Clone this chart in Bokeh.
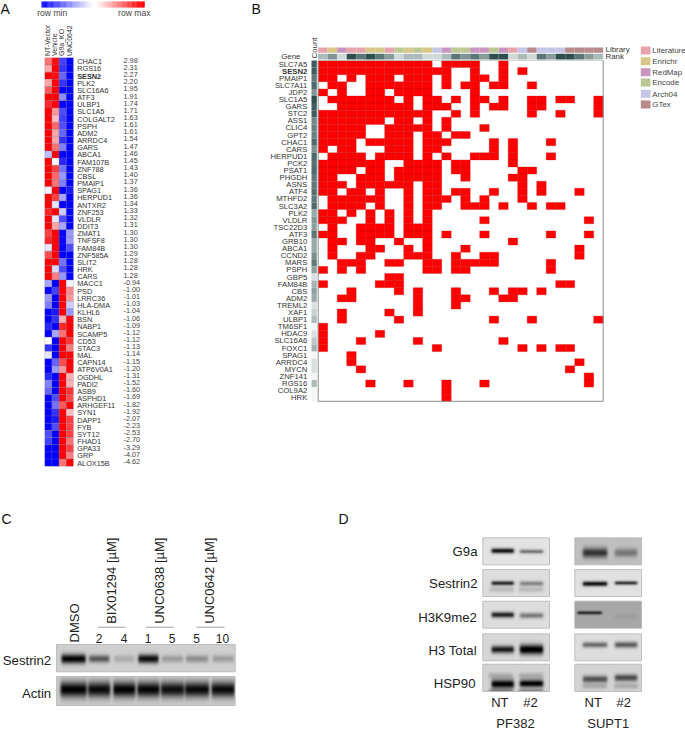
import numpy as np
from bokeh.plotting import figure
from bokeh.models import Range1d
from bokeh.core.properties import value
from bokeh.embed import file_html
from bokeh.resources import INLINE

# ---------- Panel A data ----------
a_headers = ["NT-Vector", "Vehicle", "G9a_KO", "UNC0642"]
a_genes = ["CHAC1","RGS16","SESN2","PLK2","SLC16A6","ATF3","ULBP1","SLC1A5","COLGALT2","PSPH","ADM2","ARRDC4","GARS","ABCA1",
           "FAM107B","ZNF788","CBSL","PMAIP1","SPAG1","HERPUD1","ANTXR2","ZNF253","VLDLR","DDIT3","ZMAT1","TNFSF8","FAM84B",
           "ZNF585A","SLIT2","HRK","CARS","MACC1","PSD","LRRC36","HLA-DMA","KLHL6","BSN","NABP1","SCAMP5","CD53","STAC3","MAL",
           "CAPN14","ATP6V0A1","OGDHL","PADI2","ASB9","ASPHD1","ARHGEF11","SYN1","DAPP1","FYB","SYT12","FHAD1","GPA33","GRP","ALOX15B"]
a_fc = ["2.98","2.31","2.27","2.20","1.95","1.91","1.74","1.71","1.63","1.61","1.61","1.54","1.47","1.46","1.45","1.43","1.40",
        "1.37","1.36","1.36","1.34","1.33","1.32","1.31","1.30","1.30","1.30","1.29","1.28","1.28","1.28","-0.94","-1.00","-1.01",
        "-1.03","-1.04","-1.06","-1.09","-1.12","-1.12","-1.13","-1.14","-1.15","-1.20","-1.31","-1.52","-1.60","-1.69","-1.82",
        "-1.92","-2.07","-2.23","-2.53","-2.70","-3.29","-4.07","-4.62"]
a_nt = [.55,.35,1,.35,.65,1,.85,1,1,1,1,1,1,-.25,1,1,1,1,-.05,1,1,.85,1,1,.75,.85,-.1,.7,1,1,1,
        -.35,-1,-.4,-.5,-1,-1,-.85,-1,0,-.8,-.1,-1,-1,-.85,-.5,-.6,-1,-1,-1,-1,-1,-.7,-.75,-1,-1,-1]
a_veh = [.95,1,.95,1,1,1,1,.4,.25,.6,.35,.35,.55,1,0,.75,.6,.55,1,.75,-.1,1,-.1,.35,1,1,1,1,1,-.15,.5,
         -1,-.75,-1,-1,-.9,-.8,-1,-.35,-1,-1,-1,-.6,-.4,-1,-1,-1,-.7,-.55,-.8,-.9,-.7,-1,-1,-1,-1,-1]
a_ko = [-.75,-.8,-.6,-.8,-1,-.45,-1,-.7,-.75,-.7,-.6,-.8,-.5,-1,-.85,-.55,-.4,-.5,-1,-.35,-1,-.2,-.7,-.35,-1,-1,-1,-1,-.55,-.7,-.4,
        1,1,1,1,1,.3,.85,.55,1,1,1,.7,.4,1,1,1,1,.65,1,1,1,1,1,1,1,.55]
a_unc = [-1,-1,-1,-1,-1,-1,-1,-1,-1,-1,-1,-1,-1,-1,-1,-1,-1,-1,-.9,-1,-1,-1,-1,-1,-.4,-.4,-.7,-1,-1,-1,-1,
         -.05,.45,.4,-.2,-.4,1,1,1,.8,.5,1,1,1,.3,.3,.8,.7,1,.25,.75,.75,.75,.55,.75,.5,1]

# ---------- Panel B data ----------
b_genes = ["SLC7A5","SESN2","PMAIP1","SLC7A11","JDP2","SLC1A5","GARS","STC2","ASS1","CLIC4","GPT2","CHAC1","CARS","HERPUD1",
           "PCK2","PSAT1","PHGDH","ASNS","ATF4","MTHFD2","SLC3A2","PLK2","VLDLR","TSC22D3","ATF3","GRB10","ABCA1","CCND2","MARS",
           "PSPH","GBP5","FAM84B","CBS","ADM2","TREML2","XAF1","ULBP1","TM6SF1","HDAC9","SLC16A6","FOXC1","SPAG1","ARRDC4","MYCN",
           "ZNF141","RGS16","COL9A2","HRK"]
b_hits = [
 [0,1,2,3,4,5,6,7,8,9,10,11,13,14,15,16,19],
 [0,1,2,3,4,5,6,7,8,9,10,11,12,13,16,19,21],
 [0,1,3,5,6,7,9,10,11,13,16,17,19],
 [1,2,5,6,7,8,9,10,11,13,15,16,18,19,22],
 [0,2,5,6,8,9,10,11,16],
 [1,2,3,4,5,6,7,9,11,12,14,16,17,19,22,23,25,26,29],
 [2,3,4,5,6,7,8,9,11,12,13,16,18,19,22,23,29],
 [0,1,2,3,4,5,6,7,8,9,10,11,14,16,22,25,29],
 [0,1,2,3,4,5,6,8,9,11,13],
 [0,1,2,3,4,7,8,9,10,11,13,17],
 [0,1,2,3,4,7,8,9,11,12,14,15],
 [0,1,2,3,5,6,7,8,9,11,12,13,18,20,24],
 [0,2,3,7,8,9,11,12,18,20],
 [1,2,3,4,6,7,8,9,11,13,16,17,18,20,24],
 [0,1,2,3,4,5,6,9,10,11,12,14,15,20],
 [0,1,2,3,5,6,8,9,10,11,12,14,15,21,22],
 [0,1,4,5,6,8,9,10,11,12,15,20,21],
 [0,1,2,4,5,6,7,8,9,11,12,21,23],
 [0,1,3,4,6,9,11,12,14,15,18,21,23,27],
 [1,2,3,4,5,6,9,11,12,13,15,17,21],
 [1,2,3,4,6,9,11,12,15,16,17,19,22,24,25],
 [0,1,3,5,7,9,11],
 [0,1,2,5,7,9,11,17,28],
 [1,4,5,6,7,9,10,11],
 [0,1,4,5,6,7,9,10,11,13,17,24,28],
 [1,2,4,5,8,11,20],
 [1,5,6,9,11,15,27],
 [1,4,5,9,10,11,14,17,18,27],
 [2,3,4,7,8,11,12,14,15,16,17,18,24],
 [0,2,4,11,12,14,15,24],
 [7,8],
 [0,6,7,8,25,26],
 [3,8,10,14,18,20,21,23],
 [2,3,10,14,15,19,20],
 [10,14],
 [2,7,10],
 [2,8,18,22,29],
 [0],
 [0,6],
 [0,4,10,19],
 [0,12,21,23,25,26],
 [3],
 [3,27],
 [4,26],
 [28],
 [5,9,13,17,28],
 [13],
 [13],
]
b_library = ["Literature","Enrichr","RedMap","Literature","Literature","Enrichr","Enrichr","Literature","Encode","Enrichr",
             "Encode","Enrichr","Arch04","RedMap","Encode","Encode","RedMap","RedMap","Encode","RedMap","Literature","Arch04",
             "GTex","Arch04","Arch04","Arch04","GTex","GTex","GTex","GTex"]
b_rank = [.3,.55,.1,1,.75,1,.75,.5,.1,.3,.3,.1,.1,.3,.75,.55,.75,.5,1,1,.1,.3,.1,.75,.5,1,1,.75,.5,.3]
lib_names = ["Literature","Enrichr","RedMap","Encode","Arch04","GTex"]
lib_colors = ["#e8a4ac","#d9c787","#c994c0","#bcc894","#c5c5e8","#b88a8a"]

# ---------- Blot band strengths (0-255 darkness) ----------
c_labels = ["2","4","1","5","5","10"]
c_sestrin2 = [205,120,35,195,50,65,50]
c_actin = [205,195,205,200,190,195,195]
d_rows = ["G9a","Sestrin2","H3K9me2","H3 Total","HSP90"]
d_pf382_nt = [210,185,190,190,215]
d_pf382_k2 = [110,90,100,225,215]
d_supt1_nt = [140,215,130,115,130]
d_supt1_k2 = [75,180,10,130,140]
d_pf382_bg = [228,222,222,216,212]
d_supt1_bg = [192,226,168,222,212]

# ---------- Figure: one canvas in page pixels ----------
W, H = 685, 731
p = figure(width=W, height=H, output_backend="svg", toolbar_location=None, x_axis_type=None, y_axis_type=None,
           x_range=Range1d(0, W), y_range=Range1d(H, 0), min_border=0, outline_line_color=None,
           margin=(0, 0, 0, 0))
p.grid.visible = False
FONT = value("Liberation Sans")

def lab(x, y, t, size=8, align="left", color="#333333", angle=0, style="normal", base="middle"):
    xs = x if isinstance(x, (list, np.ndarray)) else [x]
    ys = y if isinstance(y, (list, np.ndarray)) else [y]
    ts = t if isinstance(t, list) else [t]
    p.text(x=xs, y=ys, text=ts, text_font=FONT, text_font_size=f"{size}px", text_align=align, text_baseline=base,
           text_color=color, angle=angle, text_font_style=style)

def diverge(v):
    if v >= 0:
        c = int(round(255 * (1 - v)))
        return f"#ff{c:02x}{c:02x}"
    c = int(round(255 * (1 + v)))
    return f"#{c:02x}{c:02x}ff"

# panel letters
for x, y, t in [(0, 8, "A"), (251, 8, "B"), (1, 518, "C"), (338, 518, "D")]:
    lab(x, y, t, size=14, color="#111111")

# ---------- Panel A ----------
n = np.linspace(0, 1, 60)
def mix(a, b, t):
    return "#%02x%02x%02x" % tuple(int(round(a[i] + (b[i] - a[i]) * t)) for i in range(3))
cb_l = 41 + n[:-1] * 51
cb_r = 41 + n[1:] * 51 + .3
p.quad(left=cb_l, right=cb_r, top=1, bottom=7, line_color=None, fill_color=[mix((0,0,255),(255,255,255),t) for t in n[:-1]])
cb_l = 95 + n[:-1] * 49
cb_r = 95 + n[1:] * 49 + .3
p.quad(left=cb_l, right=cb_r, top=1, bottom=7, line_color=None, fill_color=[mix((255,255,255),(255,0,0),min(1,t*1.1)) for t in n[:-1]])
lab(36.7, 12, "row min", size=8.6, color="#444444")
lab(150, 12, "row max", size=8.6, align="right", color="#444444")

A_X, A_Y, A_W, A_H = 44.3, 57.3, 7.15, 7.165
for i, col in enumerate([a_nt, a_veh, a_ko, a_unc]):
    p.quad(left=A_X + i * A_W, right=A_X + (i + 1) * A_W,
           top=[A_Y + r * A_H for r in range(len(col))], bottom=[A_Y + (r + 1) * A_H for r in range(len(col))],
           fill_color=[diverge(v) for v in col], line_color="#7a6a8a", line_width=.4, line_alpha=.6)
for h, x in zip(a_headers, [46.7, 53.5, 60.5, 69]):
    lab(x, 55.5, h, size=7, angle=np.pi / 2, color="#333333")
for r, (g, f) in enumerate(zip(a_genes, a_fc)):
    b = g == "SESN2"
    lab(76.7, A_Y + (r + .5) * A_H + .4, g, size=7.3, style="bold" if b else "normal")
    lab(123, A_Y + (r + .5) * A_H - 1.2, f, size=7.3, color="#444444")

# ---------- Panel B ----------
B_X, B_Y, B_W, B_H = 317.7, 60.0, 9.5, 7.1
maxc = max(len(h) for h in b_hits)
dark, light = (47, 79, 79), (244, 246, 246)
for r, (g, hits) in enumerate(zip(b_genes, b_hits)):
    yt, yb = B_Y + r * B_H, B_Y + (r + 1) * B_H
    if hits:
        p.quad(left=[B_X + c * B_W for c in hits], right=[B_X + (c + 1) * B_W for c in hits], top=yt, bottom=yb,
               fill_color="#ff0000", line_color="#b80000", line_width=.5, line_alpha=.55)
    p.quad(left=311, right=316.3, top=yt, bottom=yb, line_color=None,
           fill_color=mix(light, dark, ((len(hits) - 1) / (maxc - 1)) ** .7))
    lab(306.8, (yt + yb) / 2, g, size=7.7, align="right", style="bold" if g == "SESN2" else "normal")
n_cols = len(b_library)
lib_map = dict(zip(lib_names, lib_colors))
p.quad(left=[B_X + c * B_W for c in range(n_cols)], right=[B_X + (c + 1) * B_W for c in range(n_cols)], top=47, bottom=52.3,
       fill_color=[lib_map[l] for l in b_library], line_color=None)
p.quad(left=[B_X + c * B_W for c in range(n_cols)], right=[B_X + (c + 1) * B_W for c in range(n_cols)], top=53.3, bottom=59,
       fill_color=[mix((225, 232, 230), dark, v) for v in b_rank], line_color=None)
B_R, B_B = B_X + n_cols * B_W, B_Y + len(b_genes) * B_H
p.line([B_X, B_X, B_R, B_R], [B_Y, B_B, B_B, B_Y], line_color="#8c8c8c", line_width=1)
p.line([B_X, B_R], [B_Y, B_Y], line_color="#c8c8c8", line_width=.8)
lab(280.7, 55.7, "Gene", size=7.9)
lab(313.5, 58, "Count", size=7.9, angle=np.pi / 2)
lab(605, 49.2, "Library", size=7.9)
lab(605, 55.9, "Rank", size=7.9)
for name, y0, color in zip(lib_names, [46, 56.7, 67.7, 78, 89.3, 100], lib_colors):
    p.quad(left=640.3, right=650, top=y0, bottom=y0 + 8, fill_color=color, line_color=None)
    lab(651.8, y0 + 4.2, name, size=7.9, color="#444444")

# ---------- Blots ----------
def blot(x0, x1, y0, y1, bg, bands):
    h, w = int((y1 - y0) * 3), int((x1 - x0) * 3)
    xs = x0 + (np.arange(w) + .5) / 3
    ys = y0 + (np.arange(h) + .5) / 3
    X, Y = np.meshgrid(xs, ys)
    d = np.zeros_like(X)
    for cx, cy, hw, s, a in bands:
        sx = .5 * (np.tanh((X - cx + hw) / 1.5) - np.tanh((X - cx - hw) / 1.5))
        d += a * sx * np.exp(-.5 * ((Y - cy) / s) ** 2)
    v = np.clip(bg - d, 0, 255).astype(np.uint32)
    img = (255 << 24) | (v << 16) | (v << 8) | v
    p.image_rgba(image=[img.astype(np.uint32)], x=x0, y=y0, dw=x1 - x0, dh=y1 - y0)
    p.quad(left=x0, right=x1, top=y0, bottom=y1, fill_color=None, line_color="#b4b4b4", line_width=.8)

# Panel C
c_x = [73, 98.5, 123.5, 147.5, 171.5, 196, 222]
c_hw = [12, 10, 10, 10, 10.5, 11, 10.5]
c_s1 = [3.2, 2.5, 2.5, 3, 2.5, 2.5, 2.5]
blot(56, 234.7, 644, 671.3, 208, [(x, 658, w, s, a) for x, w, s, a in zip(c_x, c_hw, c_s1, c_sestrin2)])
blot(56, 234.7, 676, 705, 205, [(x, 689, w + 1, 5.5, a) for x, w, a in zip(c_x, c_hw, c_actin)])
lab(50.7, 660, "Sestrin2", size=13.2, align="right", color="#222222")
lab(50.7, 693, "Actin", size=13.2, align="right", color="#222222")
lab(c_x[1:], [637.5] * 6, c_labels, size=12, align="center", color="#222222")
lab(73.7, 642, "DMSO", size=13, angle=np.pi / 2, color="#222222")
for x, t in [(110.7, "BIX01294 [µM]"), (159.3, "UNC0638 [µM]"), (209, "UNC0642 [µM]")]:
    lab(x, 623.3, t, size=13, angle=np.pi / 2, color="#222222")
for a, b in [(97.3, 125), (145.3, 173.3), (196, 224)]:
    p.line([a, b], [626.7, 626.7], line_color="#888888", line_width=.8)

# Panel D
d_y0 = [537.3, 569, 600.7, 633.3, 663.7]
d_y1 = [564.3, 596, 627.7, 660.3, 691]
d_by_pf = [[550.3, 551], [582.7, 583], [614.3, 615], [649, 649], [683, 682.5]]
d_sw_pf = [[1.8, 1.5], [1.5, 1.7], [2, 2], [2.6, 3.5], [3, 2.6]]
d_by_su = [[552.3, 552.3], [583.3, 582.5], [612.3, 616], [644.3, 644.3], [678.3, 677]]
d_sw_su = [[3.5, 3], [1.7, 1.3], [1.2, 2], [2, 2.2], [2.3, 2.3]]
d_lab_x = [477, 477, 476.3, 476.3, 475]
d_lab_y = [550.7, 583.3, 616.7, 650, 683]
for i, row in enumerate(d_rows):
    extra = []
    if row == "HSP90":
        extra = [(500, 675, 12, 2, 40), (530, 675, 12, 2, 40), (500, 689.5, 12, 1.3, 70), (530, 689.5, 12, 1.3, 70)]
    if row == "Sestrin2":
        extra = [(501, 589, 12, 2, 35), (530, 589, 12, 2, 35)]
    blot(482.3, 549, d_y0[i], d_y1[i], d_pf382_bg[i],
         [(502, d_by_pf[i][0], 11, d_sw_pf[i][0], d_pf382_nt[i]), (530.5, d_by_pf[i][1], 11.5, d_sw_pf[i][1], d_pf382_k2[i])] + extra)
    extra = []
    if row == "HSP90":
        extra = [(594, 685, 12, 2, 40), (625, 685, 12, 2, 40)]
    blot(574.3, 641, d_y0[i], d_y1[i], d_supt1_bg[i],
         [(594.3 if row != "H3K9me2" else 589, d_by_su[i][0], 12, d_sw_su[i][0], d_supt1_nt[i]),
          (625, d_by_su[i][1], 11, d_sw_su[i][1], d_supt1_k2[i])] + extra)
    lab(d_lab_x[i], d_lab_y[i], row, size=13.2, align="right", color="#222222")
for x, t in [(499.3, "NT"), (530, "#2"), (592.7, "NT"), (623.3, "#2")]:
    lab(x, 702.3, t, size=13, align="center", color="#222222")
lab(515, 723, "PF382", size=13, align="center", color="#222222")
lab(607.7, 723, "SUPT1", size=13, align="center", color="#222222")

open("out.html", "w").write(file_html(p, INLINE))
